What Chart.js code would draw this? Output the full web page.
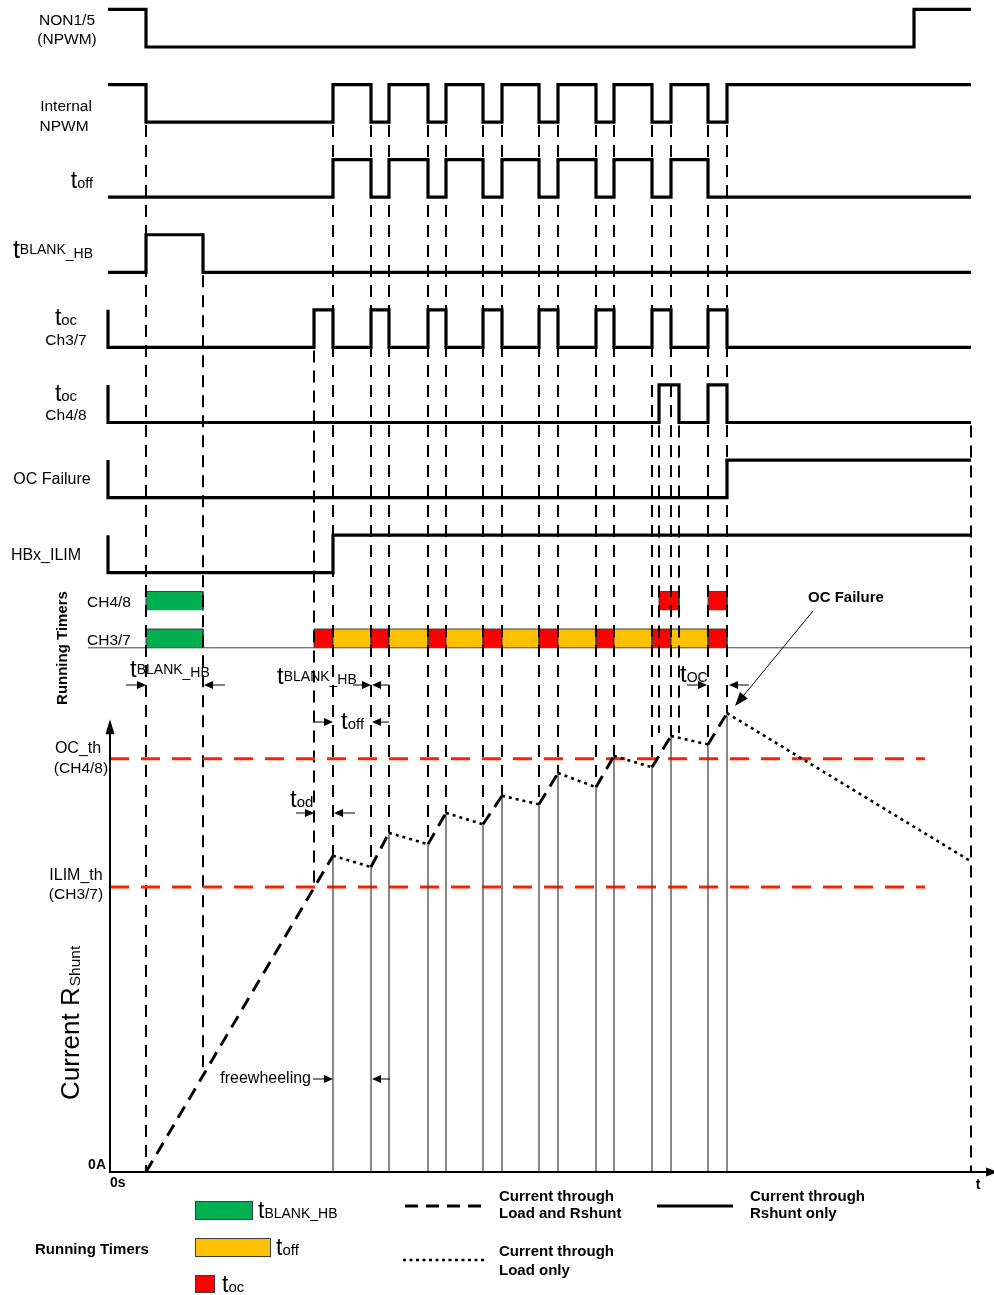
<!DOCTYPE html>
<html lang="en">
<head>
<meta charset="utf-8">
<title>Overcurrent detection timing</title>
<script src="https://cdn.jsdelivr.net/npm/chart.js@4.4.1/dist/chart.umd.min.js"></script>
<style>
  html, body { margin: 0; padding: 0; background: #ffffff; }
  canvas { display: block; }
</style>
</head>
<body>
<canvas id="timing" width="994" height="1295"></canvas>
<script>
// time axis in arbitrary units, 0 = origin of the current plot
const tStart = -0.2;
const tEnd = 86.1;

// toggle times of every digital signal (top to bottom)
const non15Edges = [3.6, 80.4];
const npwmEdges = [3.6, 22.3, 26.1, 27.9, 31.8, 33.6, 37.3, 39.2, 42.9, 44.8, 48.6, 50.4, 54.2, 56.1, 59.8, 61.7];
const toffEdges = [22.3, 26.1, 27.9, 31.8, 33.6, 37.3, 39.2, 42.9, 44.8, 48.6, 50.4, 54.2, 56.1, 59.8];
const tBlankEdges = [3.6, 9.3];
const tocCh37Edges = [20.4, 22.3, 26.1, 27.9, 31.8, 33.6, 37.3, 39.2, 42.9, 44.8, 48.6, 50.4, 54.2, 56.1, 59.8, 61.7];
const tocCh48Edges = [54.9, 56.9, 59.8, 61.7];
const ocFailureEdges = [61.7];
const ilimEdges = [22.3];
const startLevels = [1, 1, 0, 0, 0, 0, 0, 0];
const signalNames = [
  ['NON1/5', '(NPWM)'],
  ['Internal', 'NPWM'],
  ['t_off'],
  ['t_BLANK_HB'],
  ['t_oc', 'Ch3/7'],
  ['t_oc', 'Ch4/8'],
  ['OC Failure'],
  ['HBx_ILIM']
];

// running timers, [start, end]
const ch48Blank = [[3.6, 9.3]];
const ch48Oc = [[54.9, 56.9], [59.8, 61.7]];
const ch37Blank = [[3.6, 9.3]];
const ch37Oc = [[20.4, 22.3], [26.1, 27.9], [31.8, 33.6], [37.3, 39.2], [42.9, 44.8], [48.6, 50.4], [54.2, 56.1], [59.8, 61.7]];
const ch37Off = [[22.3, 26.1], [27.9, 31.8], [33.6, 37.3], [39.2, 42.9], [44.8, 48.6], [50.4, 54.2], [56.1, 59.8]];
const timerNames = ['CH4/8', 'CH3/7'];

// current (in units of ILIM_th)
const currentTimes = [3.6, 22.3, 26.1, 27.9, 31.8, 33.6, 37.3, 39.2, 42.9, 44.8, 48.6, 50.4, 54.2, 56.1, 59.8, 61.7, 86.1];
const currentValues = [0, 1.11, 1.07, 1.19, 1.15, 1.26, 1.22, 1.32, 1.29, 1.40, 1.35, 1.46, 1.42, 1.53, 1.50, 1.61, 1.09];
const ilimTh = 1.0;
const ocTh = 1.45;
const thresholdEnd = 81.5;
const currentAxisTop = 1.575;
const timeAxisEnd = 88.2;

// dashed helper lines: time, lane where they start, current where they stop
const guideTimes =     [3.6, 9.3, 20.4, 22.3, 26.1, 27.9, 31.8, 33.6, 37.3, 39.2, 42.9, 44.8, 48.6, 50.4, 54.2, 54.9, 56.1, 56.9, 59.8, 61.7, 86.1];
const guideFromLane =  [1,   3,   4,    1,    1,    1,    1,    1,    1,    1,    1,    1,    1,    1,    1,    5,    1,    5,    1,    1,    5];
const guideToCurrent = [0,   0.36, 1.0, 1.11, 1.07, 1.19, 1.15, 1.26, 1.22, 1.32, 1.29, 1.40, 1.35, 1.46, 1.42, 1.54, 1.53, 1.54, 1.50, 1.61, 0];

// layout of the picture
const W = 994, H = 1295;
const X_ORIGIN = 110, PX_PER_T = 10;
const LANE0_Y = 47, PX_PER_LANE = 75.1, HIGH = 0.5;
const AMP0_Y = 1172, PX_PER_AMP = 285;
const FONT = '"Liberation Sans", Arial, Helvetica, sans-serif';

const GREEN = '#00b050', YELLOW = '#ffc000', RED = '#ff0000';

const allEdges = [non15Edges, npwmEdges, toffEdges, tBlankEdges, tocCh37Edges, tocCh48Edges, ocFailureEdges, ilimEdges];
const stubRows = [4, 5, 6, 7];

function stepPoints(edges, lane) {
  const y = lvl => lane - lvl * HIGH;
  let lvl = startLevels[lane];
  const pts = [];
  if (stubRows.includes(lane)) pts.push({ x: tStart, y: y(1) });
  pts.push({ x: tStart, y: y(lvl) });
  edges.forEach(t => {
    pts.push({ x: t, y: y(lvl) });
    lvl = 1 - lvl;
    pts.push({ x: t, y: y(lvl) });
  });
  pts.push({ x: tEnd, y: y(lvl) });
  return pts;
}

const datasets = [];

// 1. digital signals
allEdges.forEach((edges, lane) => {
  datasets.push({
    yAxisID: 'lane', data: stepPoints(edges, lane),
    borderColor: '#000', borderWidth: 3.2, pointRadius: 0, fill: false,
    borderCapStyle: 'butt', borderJoinStyle: 'miter', order: 6
  });
});

// 2. running timer blocks
function addBlocks(spans, top, bottom, color) {
  spans.forEach(([t1, t2]) => {
    datasets.push({
      yAxisID: 'lane',
      data: [{ x: t1, y: bottom }, { x: t1, y: top }, { x: t2, y: top }, { x: t2, y: bottom }],
      borderColor: '#3c3c3c', borderWidth: 1, backgroundColor: color,
      fill: { value: bottom }, pointRadius: 0, order: 10
    });
  });
}
addBlocks(ch48Blank, 7.25, 7.5, GREEN);
addBlocks(ch48Oc, 7.25, 7.5, RED);
addBlocks(ch37Blank, 7.75, 8.0, GREEN);
addBlocks(ch37Off, 7.75, 8.0, YELLOW);
addBlocks(ch37Oc, 7.75, 8.0, RED);

// timer baseline, the dashed helpers are drawn right after it
datasets.push({
  yAxisID: 'lane', data: [{ x: -2.2, y: 8.0 }, { x: tEnd, y: 8.0 }],
  borderColor: '#444', borderWidth: 1, pointRadius: 0, order: 9, drawGuidesAfter: true
});

// 3. thresholds
[ilimTh, ocTh].forEach(v => {
  datasets.push({
    yAxisID: 'amp', data: [{ x: 0, y: v }, { x: thresholdEnd, y: v }],
    borderColor: '#ff2200', borderWidth: 3, borderDash: [19, 12], pointRadius: 0, order: 8
  });
});

// 4. current through Rshunt only (vertical pulses)
const shuntPts = [];
for (let i = 1; i < currentTimes.length - 1; i++) {
  shuntPts.push({ x: currentTimes[i], y: currentValues[i] }, { x: currentTimes[i], y: 0 }, { x: currentTimes[i], y: null });
}
datasets.push({
  yAxisID: 'amp', data: shuntPts, borderColor: '#4a4a4a', borderWidth: 1.3,
  pointRadius: 0, spanGaps: false, order: 5
});

// 5. current through load: dashed while rising, dotted while freewheeling
datasets.push({
  yAxisID: 'amp',
  data: currentTimes.map((t, i) => ({ x: t, y: currentValues[i] })),
  borderColor: '#000', borderWidth: 2.8, pointRadius: 0, order: 4,
  segment: {
    borderDash: c => (c.p0DataIndex % 2 === 0 ? [13, 8] : [3, 4]),
    borderWidth: c => (c.p0DataIndex % 2 === 0 ? 2.9 : 2.6)
  }
});

// 6. current plot axes
datasets.push({
  yAxisID: 'amp', data: [{ x: 0, y: currentAxisTop }, { x: 0, y: 0 }, { x: timeAxisEnd, y: 0 }],
  borderColor: '#000', borderWidth: 2, pointRadius: 0, order: 3
});

function font(size, bold) {
  return (bold ? 'bold ' : '') + size + 'px ' + FONT;
}

// "t" with a smaller index, like t_off ; raise lifts the part before "_"
function tLabel(ctx, x, y, sub, align, tSize, sSize, raise) {
  const parts = [['t', tSize, 0]];
  const cut = sub.indexOf('_');
  if (raise && cut > 0) {
    parts.push([sub.slice(0, cut), sSize, -raise], [sub.slice(cut), sSize, 0]);
  } else {
    parts.push([sub, sSize, 0]);
  }
  ctx.textAlign = 'left';
  ctx.textBaseline = 'alphabetic';
  let total = 0;
  parts.forEach(p => { ctx.font = font(p[1]); total += ctx.measureText(p[0]).width; });
  let cx = align === 'right' ? x - total : align === 'center' ? x - total / 2 : x;
  parts.forEach(p => {
    ctx.font = font(p[1]);
    ctx.fillText(p[0], cx, y + p[2]);
    cx += ctx.measureText(p[0]).width;
  });
}

function arrow(ctx, x1, y1, x2, y2, len, half) {
  const a = Math.atan2(y2 - y1, x2 - x1);
  ctx.beginPath();
  ctx.moveTo(x1, y1);
  ctx.lineTo(x2 - Math.cos(a) * len * 0.8, y2 - Math.sin(a) * len * 0.8);
  ctx.stroke();
  ctx.beginPath();
  ctx.moveTo(x2, y2);
  ctx.lineTo(x2 - Math.cos(a) * len - Math.sin(a) * half, y2 - Math.sin(a) * len + Math.cos(a) * half);
  ctx.lineTo(x2 - Math.cos(a) * len + Math.sin(a) * half, y2 - Math.sin(a) * len - Math.cos(a) * half);
  ctx.closePath();
  ctx.fill();
}

function text(ctx, s, x, y, align, size, bold) {
  ctx.font = font(size, bold);
  ctx.textAlign = align;
  ctx.textBaseline = 'middle';
  ctx.fillText(s, x, y);
}

const overlay = {
  id: 'overlay',
  afterDatasetDraw(chart, args) {
    if (!chart.data.datasets[args.index].drawGuidesAfter) return;
    const { x, lane, amp } = chart.scales;
    const ctx = chart.ctx;
    ctx.save();
    ctx.strokeStyle = '#000';
    ctx.lineWidth = 2;
    ctx.setLineDash([12, 8]);
    guideTimes.forEach((t, i) => {
      const px = Math.round(x.getPixelForValue(t));
      ctx.beginPath();
      ctx.moveTo(px, lane.getPixelForValue(guideFromLane[i]) + 3);
      ctx.lineTo(px, amp.getPixelForValue(guideToCurrent[i]));
      ctx.stroke();
    });
    ctx.restore();
  },
  afterDatasetsDraw(chart) {
    const { x, lane, amp } = chart.scales;
    const X = t => x.getPixelForValue(t);
    const L = v => lane.getPixelForValue(v);
    const A = v => amp.getPixelForValue(v);
    const ctx = chart.ctx;
    ctx.save();
    ctx.fillStyle = '#000';
    ctx.strokeStyle = '#000';

    // signal names
    text(ctx, signalNames[0][0], 67, L(0) - 26, 'center', 15.5);
    text(ctx, signalNames[0][1], 67, L(0) - 7, 'center', 15.5);
    text(ctx, signalNames[1][0], 66, L(1) - 15, 'center', 15.5);
    text(ctx, signalNames[1][1], 64, L(1) + 5, 'center', 15.5);
    tLabel(ctx, 93, L(2) - 9, signalNames[2][0].slice(2), 'right', 23, 14.5, 0);
    tLabel(ctx, 93, L(3) - 14, signalNames[3][0].slice(2), 'right', 25, 14, 4);
    tLabel(ctx, 66, L(4) - 22, signalNames[4][0].slice(2), 'center', 23, 15, 0);
    text(ctx, signalNames[4][1], 66, L(4) - 7, 'center', 15.5);
    tLabel(ctx, 66, L(5) - 22, signalNames[5][0].slice(2), 'center', 23, 15, 0);
    text(ctx, signalNames[5][1], 66, L(5) - 7, 'center', 15.5);
    text(ctx, signalNames[6][0], 52, L(6) - 18, 'center', 16);
    text(ctx, signalNames[7][0], 46, L(7) - 17, 'center', 16);

    // running timers
    text(ctx, timerNames[0], 87, L(7.375) + 2, 'left', 15.5);
    text(ctx, timerNames[1], 87, L(7.875) + 2, 'left', 15.5);
    ctx.save();
    ctx.translate(63, 648);
    ctx.rotate(-Math.PI / 2);
    text(ctx, 'Running Timers', 0, 0, 'center', 15, true);
    ctx.restore();

    // timing annotations
    ctx.lineWidth = 1;
    const ay1 = 685, ay2 = 722, ay3 = 813;
    tLabel(ctx, 130, 677, 'BLANK_HB', 'left', 24, 14, 3);
    arrow(ctx, X(3.6) - 20, ay1, X(3.6), ay1, 9, 4);
    arrow(ctx, X(9.3) + 22, ay1, X(9.3) + 1, ay1, 9, 4);
    tLabel(ctx, 277, 684, 'BLANK_HB', 'left', 24, 14, 3);
    arrow(ctx, X(26.1) - 18, ay1, X(26.1), ay1, 9, 4);
    arrow(ctx, X(27.9), ay1, X(26.1) + 1, ay1, 9, 4);
    tLabel(ctx, 341, 729, 'off', 'left', 24, 15, 0);
    arrow(ctx, X(20.4), ay2, X(22.3), ay2, 9, 4);
    arrow(ctx, X(27.9), ay2, X(26.1) + 1, ay2, 9, 4);
    tLabel(ctx, 290, 807, 'od', 'left', 24, 15, 0);
    arrow(ctx, X(20.4) - 18, ay3, X(20.4), ay3, 9, 4);
    arrow(ctx, X(22.3) + 22, ay3, X(22.3) + 1, ay3, 9, 4);
    tLabel(ctx, 680, 682, 'OC', 'left', 24, 14, 0);
    arrow(ctx, X(59.8) - 21, ay1, X(59.8) - 1, ay1, 9, 4);
    arrow(ctx, X(61.7) + 22, ay1, X(61.7) + 2, ay1, 9, 4);

    text(ctx, 'freewheeling', 311, 1079, 'right', 16);
    arrow(ctx, X(22.3) - 20, 1079, X(22.3), 1079, 9, 4);
    arrow(ctx, X(26.1) + 19, 1079, X(26.1) + 1, 1079, 9, 4);

    text(ctx, 'OC Failure', 808, 598, 'left', 15, true);
    arrow(ctx, 813, 611, X(61.7) + 8, A(1.635), 14, 5);

    // current plot axes and labels
    arrow(ctx, X(0), A(currentAxisTop) + 10, X(0), A(currentAxisTop) - 4, 15, 4.5);
    arrow(ctx, X(timeAxisEnd) - 8, A(0), X(timeAxisEnd) + 6, A(0), 12, 4.5);
    text(ctx, 'OC_th', 78, A(ocTh) - 10, 'center', 16);
    text(ctx, '(CH4/8)', 81, A(ocTh) + 10, 'center', 15.5);
    text(ctx, 'ILIM_th', 76, A(ilimTh) - 11, 'center', 16);
    text(ctx, '(CH3/7)', 76, A(ilimTh) + 8, 'center', 15.5);
    text(ctx, '0A', 106, A(0) - 7, 'right', 14, true);
    text(ctx, '0s', 110, A(0) + 11, 'left', 14, true);
    text(ctx, 't', 978, A(0) + 13, 'center', 14, true);

    ctx.save();
    ctx.translate(79, 1100);
    ctx.rotate(-Math.PI / 2);
    ctx.textAlign = 'left';
    ctx.textBaseline = 'alphabetic';
    ctx.font = font(26);
    ctx.fillText('Current R', 0, 0);
    const w = ctx.measureText('Current R').width;
    ctx.font = font(15.5);
    ctx.fillText('Shunt', w + 1, 1);
    ctx.restore();

    // legend
    ctx.lineWidth = 1;
    ctx.strokeStyle = '#3c3c3c';
    [[GREEN, 1201, 57, 18], [YELLOW, 1238, 75, 18], [RED, 1275, 19, 17]].forEach(([c, y, w2, h2]) => {
      ctx.fillStyle = c;
      ctx.fillRect(195.5, y + 0.5, w2, h2);
      ctx.strokeRect(195.5, y + 0.5, w2, h2);
    });
    ctx.fillStyle = '#000';
    tLabel(ctx, 258, 1218, 'BLANK_HB', 'left', 23, 14, 0);
    tLabel(ctx, 276, 1255, 'off', 'left', 23, 15, 0);
    tLabel(ctx, 222, 1292, 'oc', 'left', 23, 15, 0);
    text(ctx, 'Running Timers', 35, 1250, 'left', 15, true);

    ctx.strokeStyle = '#000';
    ctx.lineWidth = 3;
    ctx.setLineDash([13, 8]);
    ctx.beginPath(); ctx.moveTo(405, 1206); ctx.lineTo(487, 1206); ctx.stroke();
    ctx.setLineDash([]);
    ctx.beginPath(); ctx.moveTo(657, 1206); ctx.lineTo(733, 1206); ctx.stroke();
    ctx.lineWidth = 2.6;
    ctx.setLineDash([3, 3.5]);
    ctx.beginPath(); ctx.moveTo(403, 1260); ctx.lineTo(486, 1260); ctx.stroke();
    ctx.setLineDash([]);
    text(ctx, 'Current through', 499, 1197, 'left', 15, true);
    text(ctx, 'Load and Rshunt', 499, 1214, 'left', 15, true);
    text(ctx, 'Current through', 750, 1197, 'left', 15, true);
    text(ctx, 'Rshunt only', 750, 1214, 'left', 15, true);
    text(ctx, 'Current through', 499, 1252, 'left', 15, true);
    text(ctx, 'Load only', 499, 1271, 'left', 15, true);
    ctx.restore();
  }
};

new Chart(document.getElementById('timing'), {
  type: 'line',
  data: { datasets: datasets },
  options: {
    responsive: false,
    animation: false,
    events: [],
    layout: { padding: 0 },
    plugins: { legend: { display: false }, tooltip: { enabled: false } },
    scales: {
      x: { type: 'linear', display: false, bounds: 'data', min: -X_ORIGIN / PX_PER_T, max: (W - X_ORIGIN) / PX_PER_T },
      lane: { type: 'linear', display: false, bounds: 'data', reverse: true, min: -LANE0_Y / PX_PER_LANE, max: (H - LANE0_Y) / PX_PER_LANE },
      amp: { type: 'linear', display: false, bounds: 'data', min: -(H - AMP0_Y) / PX_PER_AMP, max: AMP0_Y / PX_PER_AMP }
    }
  },
  plugins: [overlay]
});
</script>
</body>
</html>
